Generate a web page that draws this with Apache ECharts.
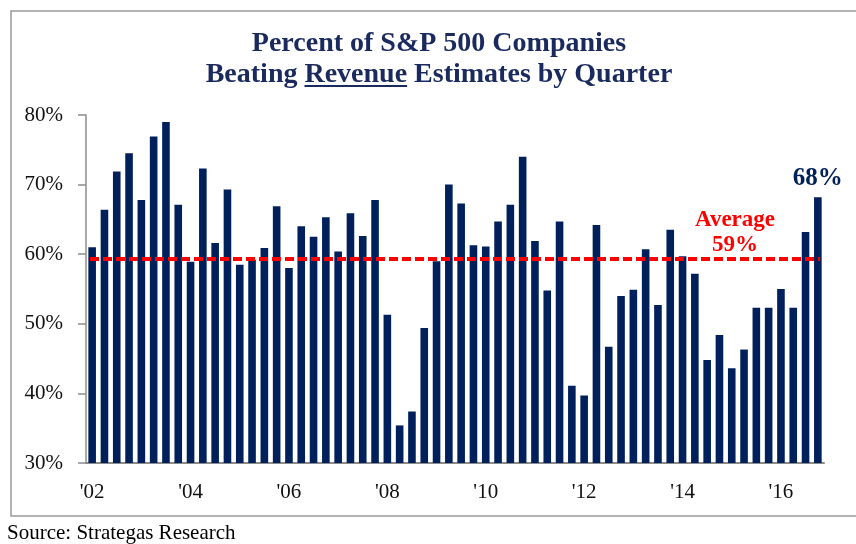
<!DOCTYPE html>
<html>
<head>
<meta charset="utf-8">
<script src="https://cdn.jsdelivr.net/npm/echarts@6/dist/echarts.min.js"></script>
<style>html,body{margin:0;padding:0;background:#fff}#c{width:856px;height:544px}</style>
</head>
<body>
<div id="c"></div>
<script>
// Data
var years = ["'02","'03","'04","'05","'06","'07","'08","'09","'10","'11","'12","'13","'14","'15","'16"];
var quarterNames = ["Q1","Q2","Q3","Q4"];
var beatPct = [61.0,66.4,71.9,74.5,67.8,76.9,79.0,67.1,
               58.9,72.3,61.6,69.3,58.5,59.2,60.9,66.9,
               58.0,64.0,62.5,65.3,60.4,65.9,62.6,67.8,
               51.3,35.4,37.4,49.4,59.0,70.0,67.3,61.3,
               61.1,64.7,67.1,74.0,61.9,54.8,64.7,41.1,
               39.7,64.2,46.7,54.0,54.9,60.7,52.7,63.5,
               59.7,57.2,44.8,48.4,43.6,46.3,52.3,52.3,
               55.0,52.3,63.2,68.2];
var averageValue = 59.3;
var averageText = ['Average', '59%'];
var lastLabel = '68%';
var yTicks = [30, 40, 50, 60, 70, 80];
var titleLine1 = 'Percent of S&P 500 Companies';
var titleLine2a = 'Beating ';
var titleLine2b = 'Revenue';
var titleLine2c = ' Estimates by Quarter';
var sourceText = 'Source: Strategas Research';

var categories = [];
years.forEach(function (y) { quarterNames.forEach(function (q) { categories.push(q + ' ' + y); }); });

var NAVY = '#00205c';
var TITLE = '#1b2a5e';
var serif = '"Liberation Serif", "Times New Roman", serif';
var titleFont = 'bold 28px ' + serif;

// measure title text for underline
var cv = document.createElement('canvas').getContext('2d');
cv.font = titleFont;
var full2 = titleLine2a + titleLine2b + titleLine2c;
var w2 = cv.measureText(full2).width;
var wA = cv.measureText(titleLine2a).width;
var wB = cv.measureText(titleLine2b).width;
var cx = 439;
var ulX0 = cx - w2 / 2 + wA;

var chart = echarts.init(document.getElementById('c'), null, {renderer: 'canvas'});
var dataItems = beatPct.map(function (v, i) {
  if (i === beatPct.length - 1) {
    return {value: v, label: {show: true, position: 'top', distance: 6, formatter: lastLabel,
      color: NAVY, fontFamily: serif, fontWeight: 'bold', fontSize: 25}};
  }
  return v;
});

chart.setOption({
  animation: false,
  backgroundColor: '#fff',
  grid: {left: 86, right: 32, top: 115, bottom: 81, containLabel: false},
  xAxis: {
    type: 'category',
    data: categories,
    boundaryGap: true,
    axisLine: {lineStyle: {color: '#8c8c8c', width: 2}},
    axisTick: {show: false},
    axisLabel: {
      interval: 7, margin: 19, color: '#111', fontFamily: serif, fontSize: 21,
      formatter: function (v) { return v.split(' ')[1]; }
    },
    splitLine: {show: false}
  },
  yAxis: {
    type: 'value',
    min: yTicks[0], max: yTicks[yTicks.length - 1], interval: 10,
    axisLine: {show: true, lineStyle: {color: '#8c8c8c', width: 1.5}},
    axisTick: {show: true, length: 8, lineStyle: {color: '#8c8c8c', width: 1.5}},
    axisLabel: {margin: 23, color: '#111', fontFamily: serif, fontSize: 21,
      formatter: function (v) { return v + '%'; }},
    splitLine: {show: false}
  },
  series: [{
    type: 'bar',
    data: dataItems,
    barWidth: 7.6,
    itemStyle: {color: NAVY},
    markLine: {
      silent: true,
      symbol: 'none',
      label: {show: false},
      lineStyle: {color: '#ff0000', type: [9, 4], width: 4},
      data: [[{coord: [0, averageValue], x: 90}, {coord: [beatPct.length - 1, averageValue], x: 820}]]
    }
  }],
  graphic: [
    {type: 'rect', shape: {x: 11, y: 11, width: 852, height: 505}, style: {fill: 'none', stroke: '#999', lineWidth: 1.5}, z: -1},
    {type: 'text', style: {text: titleLine1, x: cx, y: 44, textAlign: 'center', textVerticalAlign: 'middle', font: titleFont, fill: TITLE}},
    {type: 'text', style: {text: full2, x: cx, y: 75, textAlign: 'center', textVerticalAlign: 'middle', font: titleFont, fill: TITLE}},
    {type: 'line', shape: {x1: ulX0, y1: 86, x2: ulX0 + wB, y2: 86}, style: {stroke: TITLE, lineWidth: 2}},
    {type: 'text', style: {text: averageText[0], x: 735, y: 220, textAlign: 'center', textVerticalAlign: 'middle', font: 'bold 23px ' + serif, fill: '#ff0000'}},
    {type: 'text', style: {text: averageText[1], x: 735, y: 245, textAlign: 'center', textVerticalAlign: 'middle', font: 'bold 23px ' + serif, fill: '#ff0000'}},
    {type: 'text', style: {text: sourceText, x: 7, y: 533, textAlign: 'left', textVerticalAlign: 'middle', font: '21px ' + serif, fill: '#000'}}
  ]
});
</script>
</body>
</html>
